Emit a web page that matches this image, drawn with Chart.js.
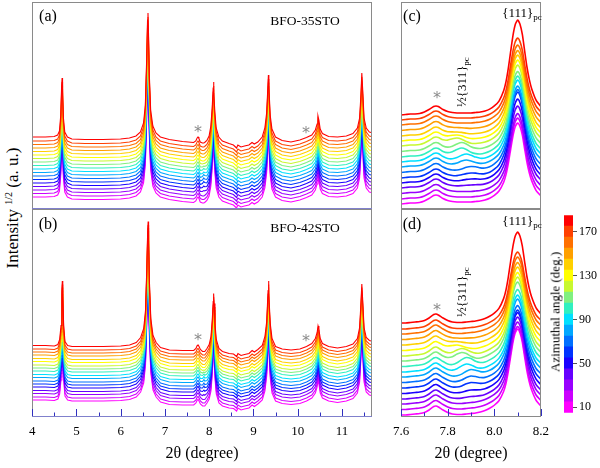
<!DOCTYPE html>
<html>
<head>
<meta charset="utf-8">
<script src="https://cdn.jsdelivr.net/npm/chart.js@4"></script>
<style>
body { margin: 0; background: #fff; }
#wrap { position: relative; width: 600px; height: 468px; overflow: hidden; background: #fff; }
canvas { position: absolute; }
.t { position: absolute; font-family: 'Liberation Serif', 'DejaVu Serif', serif; white-space: nowrap; line-height: 1; color: #000; transform: translate(-50%, -50%); }
.r { transform: translate(-50%, -50%) rotate(-90deg); }
.star { color: #8a8a8a; font-family: 'DejaVu Sans', sans-serif; font-size: 16px; }
sub { font-size: 9px; vertical-align: -3px; }
sup { font-size: 10px; vertical-align: 6px; }
</style>
</head>
<body>
<div id="wrap">
  <canvas id="pa" width="360" height="212" style="left:22px;top:0px"></canvas>
  <canvas id="pb" width="360" height="240" style="left:22px;top:207px"></canvas>
  <canvas id="pc" width="160" height="212" style="left:391px;top:0px"></canvas>
  <canvas id="pd" width="170" height="240" style="left:386px;top:207px"></canvas>
  <canvas id="cb" width="40" height="216" style="left:560px;top:206px"></canvas>

  <div class="t r" style="left:12px;top:208px;font-size:17px">Intensity <sup>1/2</sup> (a. u.)</div>
  <div class="t" style="left:202px;top:453px;font-size:16px">2θ (degree)</div>
  <div class="t" style="left:471px;top:453px;font-size:16px">2θ (degree)</div>
  <div class="t r" style="left:555px;top:312px;font-size:13px">Azimuthal angle (deg.)</div>

  <div class="t" style="left:48px;top:16px;font-size:16px">(a)</div>
  <div class="t" style="left:305px;top:21px;font-size:13.5px">BFO-35STO</div>
  <div class="t" style="left:48px;top:224px;font-size:16px">(b)</div>
  <div class="t" style="left:305px;top:228px;font-size:13.5px">BFO-42STO</div>
  <div class="t" style="left:412px;top:16px;font-size:16px">(c)</div>
  <div class="t" style="left:522px;top:14px;font-size:13px">{111}<sub>pc</sub></div>
  <div class="t r" style="left:463px;top:82px;font-size:13px">½{311}<sub>pc</sub></div>
  <div class="t" style="left:412px;top:224px;font-size:16px">(d)</div>
  <div class="t" style="left:522px;top:222px;font-size:13px">{111}<sub>pc</sub></div>
  <div class="t r" style="left:463px;top:292px;font-size:13px">½{311}<sub>pc</sub></div>

  <div class="t star" style="left:198px;top:132px">*</div>
  <div class="t star" style="left:306px;top:133px">*</div>
  <div class="t star" style="left:198px;top:340px">*</div>
  <div class="t star" style="left:306px;top:341px">*</div>
  <div class="t star" style="left:437px;top:98px">*</div>
  <div class="t star" style="left:437px;top:310px">*</div>
</div>

<script>
// azimuthal angles (deg.) of the 18 patterns, bottom (magenta) to top (red)
const angles = [10, 20, 30, 40, 50, 60, 70, 80, 90, 100, 110, 120, 130, 140, 150, 160, 170, 180];
const curveColors = ['#ff00ff', '#cc00ff', '#9900ff', '#6600ff', '#1a00ff', '#0033ff', '#0070ff', '#00a8ff', '#00e0ff',
                     '#30f0c0', '#80f080', '#c8f830', '#ffff00', '#ffd000', '#ffa000', '#ff7000', '#ff4000', '#ff0000'];
const cbTicks = [10, 50, 90, 130, 170];

// wide scans (a), (b): 2theta positions and top-curve height above its own left baseline
const gridLeft = [4.00, 4.30, 4.50, 4.58, 4.62, 4.65, 4.67, 4.68, 4.69, 4.71,
                  4.74, 4.80, 4.90, 5.20, 5.60, 6.00, 6.20, 6.35, 6.45, 6.52,
                  6.56, 6.59, 6.61, 6.62, 6.63, 6.65, 6.68, 6.73, 6.80, 6.90,
                  7.10, 7.40, 7.65, 7.70, 7.73, 7.75, 7.77, 7.80, 7.85, 7.88,
                  7.90, 7.95, 8.00, 8.04, 8.07, 8.09, 8.10, 8.11, 8.13, 8.16,
                  8.22, 8.30, 8.45, 8.55, 8.62, 8.65, 8.72, 8.80, 8.90, 8.97,
                  9.02, 9.10, 9.20, 9.26, 9.30, 9.33, 9.34, 9.35, 9.38, 9.42,
                  9.50, 9.65, 9.85, 10.05, 10.20, 10.32, 10.40, 10.44, 10.46, 10.48,
                  10.51, 10.56, 10.70, 10.90, 11.10, 11.25, 11.35, 11.40, 11.43, 11.45,
                  11.47, 11.50, 11.55, 11.62, 11.70];
const profileA = [0, 0, 0.5, 2, 6, 22, 52, 59, 47, 19,
                  5, 0, -2, -2.5, -2.5, -2, -1, 1, 5, 14,
                  32, 77, 117, 124, 107, 62, 27, 11, 4, 0,
                  -2.5, -4.5, -5.5, -4, -1, 0, -1.5, -5, -6, -6,
                  -5.5, -3.5, 1, 11, 29, 47, 55, 45, 25, 9,
                  0, -4, -6.5, -8, -11, -8, -10, -9, -8, -5.5,
                  -7, -5, 0, 9, 24, 52, 62, 51, 22, 8,
                  0, -3.5, -5, -3, -0.5, 2, 7, 13, 21, 17,
                  8, 3.5, 0.5, 0, 1, 3.5, 9, 19, 42, 64,
                  47, 19, 9, 5, 4];
const profileB = [0, 0, -0.5, 1, 6, 20, 55, 64.5, 52, 20,
                  4, 0, -1, -1, -1, -0.5, 0.5, 3, 8, 17,
                  35, 78, 116, 124, 106, 62, 27, 10, 3, -2,
                  -4.5, -5, -5, -3, 0, 0.5, -1, -4, -6, -6,
                  -6, -3, 1, 9, 26, 44, 52, 42, 22, 6,
                  -3, -6, -8, -8.5, -11, -8, -10, -9, -8, -5,
                  -6.5, -4, 0, 9, 24, 54, 64.5, 53, 22, 7,
                  -1, -3.5, -4.5, -3.5, -1, 2, 7, 13, 19.5, 16,
                  7, 2, -1, -2.5, -1, 1.5, 7, 18, 42, 61.5,
                  45, 18, 8, 5, 4];
// left baselines of each pattern (waterfall offset), bottom to top
const offsetsA = [12, 15.5, 19, 22.5, 26, 29.5, 33, 36.5, 40, 43.5, 47, 50.5, 54, 57.5, 61, 64.5, 68, 72];
const offsetsB = [17, 20, 23.5, 26.5, 30, 33, 36, 39.5, 42.5, 46, 49, 52, 55.5, 58.5, 62, 65, 68, 71.5];
// weak 1/2{311} bump near 7.88 in the middle patterns
const bumpLeftA = [0, 0, 0, 2, 3, 4, 4, 4, 3, 3, 2, 1, 0, 0, 0, 0, 0, 0];
const bumpLeftB = [0, 0, 0, 2, 3, 4, 4, 4, 4, 3, 2, 1, 0, 0, 0, 0, 0, 0];
const bumpLeftShape = { 7.85: 0.5, 7.88: 1, 7.9: 0.6 };

// zoomed scans (c), (d)
const gridRight = [7.60, 7.62, 7.64, 7.66, 7.68, 7.70, 7.72, 7.74, 7.75, 7.76,
                   7.78, 7.80, 7.82, 7.84, 7.86, 7.88, 7.90, 7.92, 7.94, 7.96,
                   7.98, 8.00, 8.02, 8.04, 8.05, 8.06, 8.07, 8.08, 8.09, 8.10,
                   8.11, 8.12, 8.13, 8.14, 8.15, 8.16, 8.18, 8.20];
const bgC = [0, 0.5, 1, 1, 1.5, 3, 5.5, 8.5, 9, 8.5,
             5.5, 3.5, 2.5, 2, 2, 2, 2, 2.5, 3, 4,
             5, 6.5, 8, 9, 9.5, 9.5, 10, 10, 10, 10,
             10, 10, 9.5, 9.5, 9, 8.5, 7.5, 6.5];
const bgD = [0, 0, 0.5, 1, 1.5, 2.5, 5, 8.5, 9, 8,
             5, 2.5, 1, 0.5, 0.5, 1, 1.5, 2, 3, 4.5,
             6, 7.5, 9, 10, 10.5, 10.5, 11, 11, 11, 11,
             11, 11, 10.5, 10.5, 10, 9.5, 8.5, 7.5];
const peak111 = [0, 0, 0, 0, 0, 0, 0, 0, 0, 0,
                 0, 0, 0, 0, 0, 0, 0, 0, 0, 0,
                 0.01, 0.03, 0.07, 0.18, 0.28, 0.44, 0.63, 0.82, 0.95, 1,
                 0.95, 0.83, 0.64, 0.45, 0.31, 0.21, 0.08, 0.02];
const offsetsC = [5, 10, 15.5, 21, 26, 31, 36.5, 42, 47, 52, 57.5, 63, 68, 73, 78.5, 84, 89, 94];
const offsetsD = [2, 7.5, 13, 18, 23.5, 29, 34.5, 40, 45, 50.5, 56, 61, 66.5, 72, 77.5, 83, 88, 94];
const ampC = [71, 71, 70, 72, 74, 76, 73, 71, 72, 71, 70, 71, 71, 71, 70, 70, 72, 85];
const ampD = [75, 72, 71, 71, 70, 67, 66, 67, 66, 66, 68, 68, 67, 67, 66, 66, 66, 80];
const bumpPosC = [7.9, 7.9, 7.9, 7.9, 7.9, 7.9, 7.9, 7.88, 7.88, 7.86, 7.86, 7.84, 7.84, 7.84, 7.84, 7.84, 7.84, 7.84];
const bumpHtC = [0, 0, 0, 1, 2, 3, 4, 5, 6, 7, 7, 6, 4, 2, 1, 0, 0, 0];
const bumpPosD = [7.9, 7.9, 7.9, 7.9, 7.9, 7.9, 7.9, 7.9, 7.88, 7.88, 7.86, 7.86, 7.84, 7.84, 7.84, 7.84, 7.84, 7.84];
const bumpHtD = [0, 0, 0, 1, 2, 4, 5, 6, 7, 8, 8, 7, 5, 3, 1, 0, 0, 0];
const bumpShape = { '-3': 0.12, '-2': 0.4, '-1': 0.8, '0': 1, '1': 0.8, '2': 0.4, '3': 0.12 };

const xTicksLeft = [4, 5, 6, 7, 8, 9, 10, 11];
const xMinorLeft = [4.5, 5.5, 6.5, 7.5, 8.5, 9.5, 10.5, 11.5];
const xTicksRight = [7.6, 7.8, 8.0, 8.2];
const xMinorRight = [7.7, 7.9, 8.1];

const SERIF = "'Liberation Serif', 'DejaVu Serif', serif";
Chart.defaults.font.family = SERIF;
Chart.defaults.color = '#000';

// red (top) pattern first so it is drawn over the others
function leftSets(profile, offsets, bumps) {
    const sets = [];
    for (let i = angles.length - 1; i >= 0; i--) {
        sets.push({
            label: angles[i] + '°',
            data: gridLeft.map((x, j) => ({ x: x, y: offsets[i] + profile[j] + bumps[i] * (bumpLeftShape[x] || 0) })),
            borderColor: curveColors[i],
            borderWidth: 1.1,
            pointRadius: 0,
            tension: 0
        });
    }
    return sets;
}

function rightSets(bg, offsets, amps, bumpPos, bumpHt) {
    const sets = [];
    for (let i = angles.length - 1; i >= 0; i--) {
        sets.push({
            label: angles[i] + '°',
            data: gridRight.map((x, j) => ({
                x: x,
                y: offsets[i] + bg[j] + amps[i] * peak111[j] + bumpHt[i] * (bumpShape[Math.round((x - bumpPos[i]) / 0.02)] || 0)
            })),
            borderColor: curveColors[i],
            borderWidth: 1.6,
            pointRadius: 0,
            tension: 0.2
        });
    }
    return sets;
}

// frame around the plot area plus inward tick marks
function makeFrame(o) {
    return {
        id: 'frame',
        afterDraw(chart) {
            const a = chart.chartArea;
            const ctx = chart.ctx;
            ctx.save();
            ctx.lineWidth = 1;
            ctx.strokeStyle = o.color;
            ctx.strokeRect(Math.round(a.left) + 0.5, Math.round(a.top) + 0.5,
                           Math.round(a.right - a.left) - 1, Math.round(a.bottom - a.top) - 1);
            if (o.bottom) {
                ctx.strokeStyle = o.bottom;
                ctx.beginPath();
                ctx.moveTo(a.left, Math.round(a.bottom) - 0.5);
                ctx.lineTo(a.right, Math.round(a.bottom) - 0.5);
                ctx.stroke();
            }
            ctx.strokeStyle = o.tickColor || '#3030c0';
            const drawTicks = (vals, len) => {
                (vals || []).forEach(v => {
                    const px = Math.round(chart.scales.x.getPixelForValue(v)) + 0.5;
                    ctx.beginPath();
                    ctx.moveTo(px, a.bottom - 1);
                    ctx.lineTo(px, a.bottom - 1 - len);
                    ctx.stroke();
                });
            };
            drawTicks(o.major, 7);
            drawTicks(o.minor, 3.5);
            ctx.restore();
        }
    };
}

function panel(id, sets, xMin, xMax, yMax, pad, axis, frame) {
    new Chart(document.getElementById(id), {
        type: 'line',
        data: { datasets: sets },
        options: {
            responsive: false,
            animation: false,
            events: [],
            layout: { padding: pad },
            plugins: { legend: { display: false }, tooltip: { enabled: false } },
            scales: {
                x: {
                    type: 'linear',
                    min: xMin,
                    max: xMax,
                    display: !!axis,
                    grid: { display: false, drawTicks: false },
                    border: { display: false },
                    ticks: {
                        padding: 7,
                        font: { size: 13, family: SERIF },
                        color: '#000',
                        callback: axis ? axis.fmt : undefined
                    },
                    afterBuildTicks: axis ? (s => { s.ticks = axis.ticks.map(v => ({ value: v })); }) : undefined,
                    afterFit: axis ? (s => { s.height = 30; }) : undefined
                },
                y: { type: 'linear', min: 0, max: yMax, display: false }
            }
        },
        plugins: [makeFrame(frame)]
    });
}

function draw() {
    panel('pa', leftSets(profileA, offsetsA, bumpLeftA), 4, 11.68, 207,
          { left: 10, top: 2, right: 10, bottom: 3 }, null,
          { color: '#8a8a8a', bottom: '#8080cc' });
    panel('pb', leftSets(profileB, offsetsB, bumpLeftB), 4, 11.68, 208,
          { left: 10, top: 2, right: 10, bottom: 0 },
          { ticks: xTicksLeft, fmt: v => String(v) },
          { color: '#8a8a8a', bottom: '#8080cc', major: xTicksLeft, minor: xMinorLeft });
    panel('pc', rightSets(bgC, offsetsC, ampC, bumpPosC, bumpHtC), 7.6, 8.2, 207,
          { left: 10, top: 2, right: 10, bottom: 3 }, null,
          { color: '#8a8a8a' });
    panel('pd', rightSets(bgD, offsetsD, ampD, bumpPosD, bumpHtD), 7.6, 8.2, 208,
          { left: 15, top: 2, right: 14, bottom: 0 },
          { ticks: xTicksRight, fmt: v => v.toFixed(1) },
          { color: '#8a8a8a', major: xTicksRight, minor: xMinorRight });

    // colour bar: one floating bar segment per azimuthal angle
    new Chart(document.getElementById('cb'), {
        type: 'bar',
        data: {
            labels: [''],
            datasets: angles.map((a, i) => ({
                data: [[a - 5, a + 5]],
                backgroundColor: curveColors[i],
                borderWidth: 0,
                barPercentage: 1,
                categoryPercentage: 1,
                grouped: false
            }))
        },
        options: {
            responsive: false,
            animation: false,
            events: [],
            layout: { padding: { left: 4, top: 6, right: 0, bottom: 6 } },
            plugins: { legend: { display: false }, tooltip: { enabled: false } },
            scales: {
                x: { display: false },
                y: {
                    position: 'right',
                    min: 5,
                    max: 185,
                    grid: { drawOnChartArea: false, tickLength: 4, color: '#555' },
                    border: { display: false },
                    ticks: { font: { size: 12, family: SERIF }, color: '#000', padding: 2 },
                    afterBuildTicks: s => { s.ticks = cbTicks.map(v => ({ value: v })); },
                    afterFit: s => { s.width = 27; }
                }
            }
        }
    });
}

// canvas text needs the local serif face loaded before the charts draw
Promise.all([
    document.fonts.load("13px 'Liberation Serif'"),
    document.fonts.load("12px 'Liberation Serif'")
]).then(draw, draw);
</script>
</body>
</html>
